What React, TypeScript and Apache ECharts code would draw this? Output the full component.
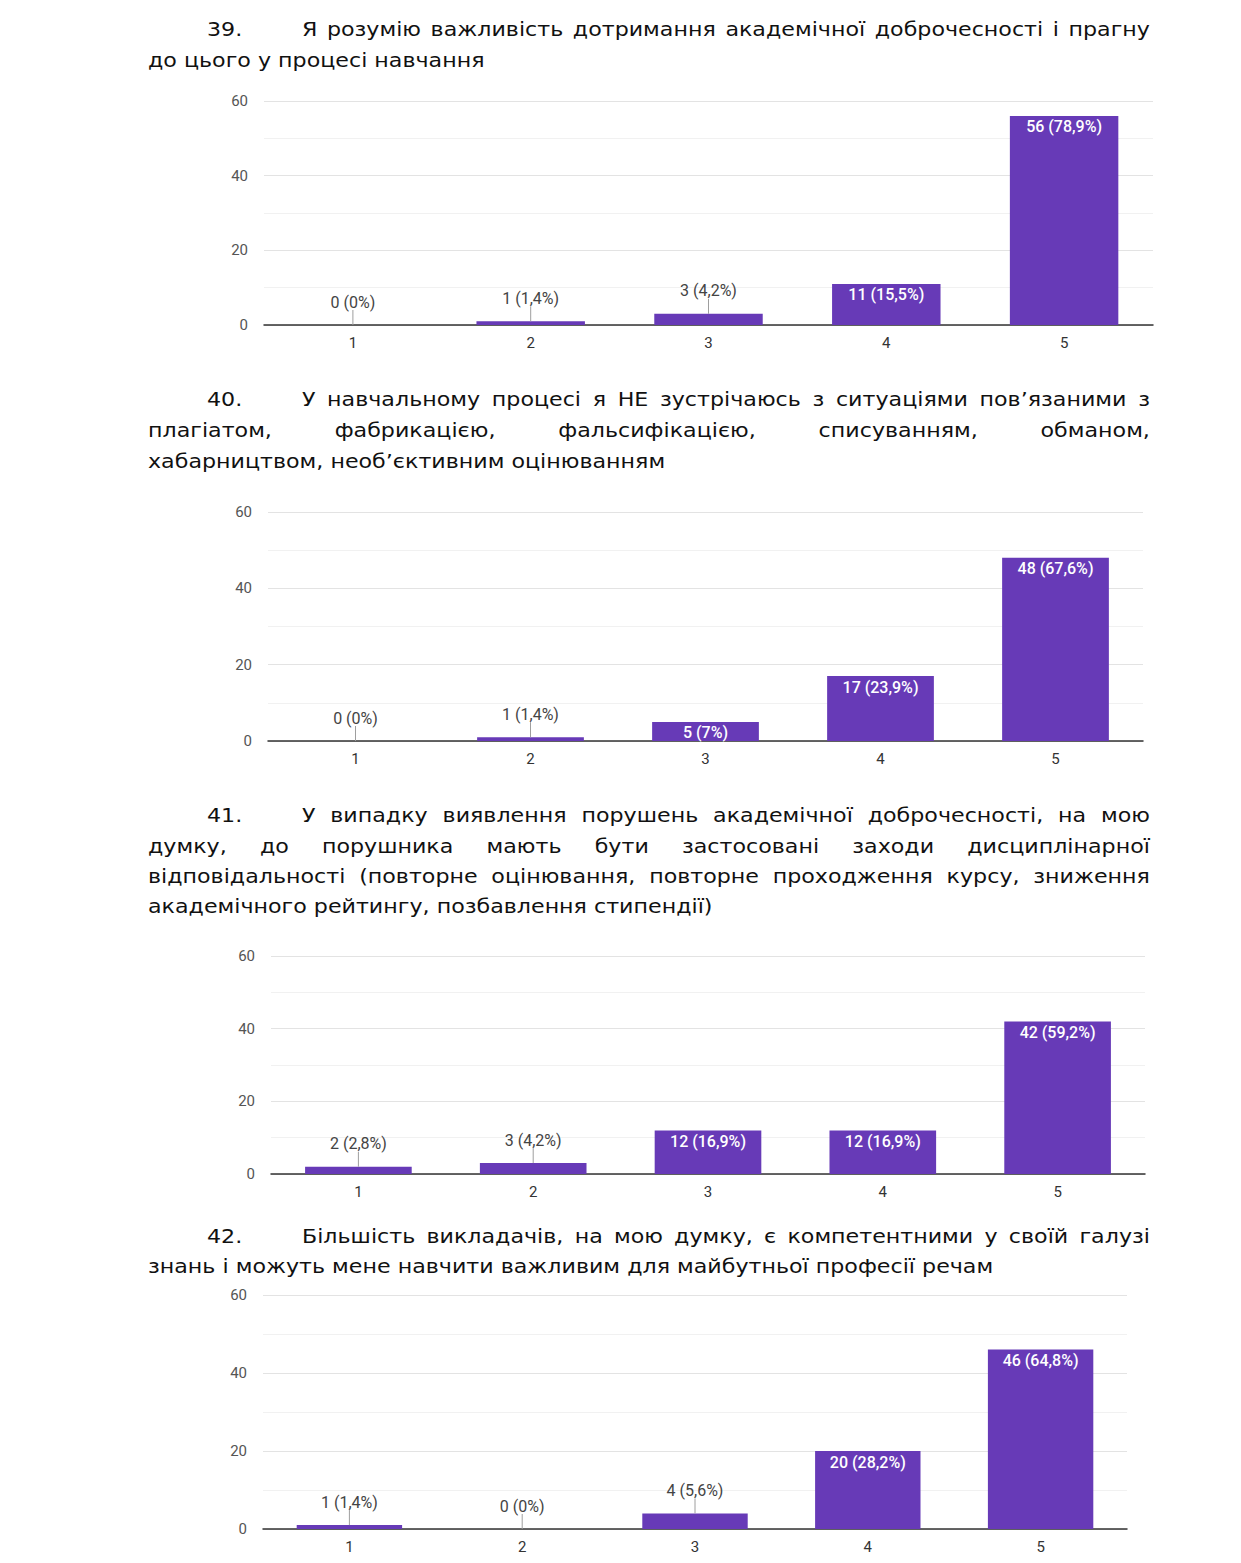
import React, { useEffect, useRef } from 'react';
import * as echarts from 'echarts';

// ---------- DATA ----------
const categories = ['1', '2', '3', '4', '5'];
const yMin = 0;
const yMax = 60;
const yStep = 20;

const q39Number = '39.';
const q39Lines = [
  'Я розумію важливість дотримання академічної доброчесності і прагну',
  'до цього у процесі навчання',
];
const q39Counts = [0, 1, 3, 11, 56];
const q39Pct = ['0%', '1,4%', '4,2%', '15,5%', '78,9%'];

const q40Number = '40.';
const q40Lines = [
  'У навчальному процесі я НЕ зустрічаюсь з ситуаціями пов’язаними з',
  'плагіатом, фабрикацією, фальсифікацією, списуванням, обманом,',
  'хабарництвом, необ’єктивним оцінюванням',
];
const q40Counts = [0, 1, 5, 17, 48];
const q40Pct = ['0%', '1,4%', '7%', '23,9%', '67,6%'];

const q41Number = '41.';
const q41Lines = [
  'У випадку виявлення порушень академічної доброчесності, на мою',
  'думку, до порушника мають бути застосовані заходи дисциплінарної',
  'відповідальності (повторне оцінювання, повторне проходження курсу, зниження',
  'академічного рейтингу, позбавлення стипендії)',
];
const q41Counts = [2, 3, 12, 12, 42];
const q41Pct = ['2,8%', '4,2%', '16,9%', '16,9%', '59,2%'];

const q42Number = '42.';
const q42Lines = [
  'Більшість викладачів, на мою думку, є компетентними у своїй галузі',
  'знань і можуть мене навчити важливим для майбутньої професії речам',
];
const q42Counts = [1, 0, 4, 20, 46];
const q42Pct = ['1,4%', '0%', '5,6%', '28,2%', '64,8%'];

// ---------- LAYOUT ----------
const PANELS = [
  { num: q39Number, lines: q39Lines, counts: q39Counts, pct: q39Pct, lineY: [29, 60], lastEnd: 483,
    grid: { left: 264, top: 101, width: 889, height: 224 } },
  { num: q40Number, lines: q40Lines, counts: q40Counts, pct: q40Pct, lineY: [399, 430, 461], lastEnd: 675,
    grid: { left: 268, top: 512, width: 875, height: 229 } },
  { num: q41Number, lines: q41Lines, counts: q41Counts, pct: q41Pct, lineY: [815, 846, 876, 906], lastEnd: 702,
    grid: { left: 271, top: 956, width: 874, height: 218 } },
  { num: q42Number, lines: q42Lines, counts: q42Counts, pct: q42Pct, lineY: [1236, 1266], lastEnd: 997,
    grid: { left: 263, top: 1295, width: 864, height: 234 } },
];

const TEXT_LEFT = 148;
const TEXT_RIGHT = 1150;
const NUM_X = 207;
const FIRST_X = 302;
const HFS = 20;
const HFONT = '"DejaVu Sans", sans-serif';
const INSIDE_MIN = 5;
const BAR_COLOR = '#673ab7';

function buildHeadings(): any[] {
  const canvas = document.createElement('canvas');
  const ctx = canvas.getContext('2d')!;
  ctx.font = `${HFS}px ${HFONT}`;
  const mw = (s: string) => ctx.measureText(s).width;
  let tgt = 0;
  let nat = 0;
  PANELS.forEach((p) => {
    tgt += p.lastEnd - TEXT_LEFT;
    nat += mw(p.lines[p.lines.length - 1]);
  });
  const sx = tgt / nat;
  const font = `${HFS}px ${HFONT}`;
  const els: any[] = [];
  PANELS.forEach((p) => {
    els.push({
      type: 'text', x: NUM_X, y: p.lineY[0], scaleX: sx, silent: true,
      style: { text: p.num, font, fill: '#111', verticalAlign: 'middle', align: 'left' },
    });
    p.lines.forEach((line, li) => {
      const y = p.lineY[li];
      const left = li === 0 ? FIRST_X : TEXT_LEFT;
      const isLast = li === p.lines.length - 1;
      if (isLast) {
        els.push({
          type: 'text', x: left, y, scaleX: sx, silent: true,
          style: { text: line, font, fill: '#111', verticalAlign: 'middle', align: 'left' },
        });
        return;
      }
      const words = line.split(' ');
      const ws = words.map(mw);
      const sumNat = ws.reduce((a, b) => a + b, 0);
      const W = TEXT_RIGHT - left;
      const minGap = HFS * 0.3;
      let s = sx;
      if (sumNat * s + (words.length - 1) * minGap > W) {
        s = (W - (words.length - 1) * minGap) / sumNat;
      }
      const gap = words.length > 1 ? (W - sumNat * s) / (words.length - 1) : 0;
      let x = left;
      words.forEach((wd, k) => {
        els.push({
          type: 'text', x, y, scaleX: s, silent: true,
          style: { text: wd, font, fill: '#111', verticalAlign: 'middle', align: 'left' },
        });
        x += ws[k] * s + gap;
      });
    });
  });
  return els;
}

export default function App() {
  const ref = useRef<HTMLDivElement>(null);
  useEffect(() => {
    if (!ref.current) return;
    const chart = echarts.init(ref.current, undefined, { renderer: 'svg' });
    const grid = PANELS.map((p) => ({ ...p.grid, containLabel: false }));
    const xAxis = PANELS.map((_, i) => ({
      type: 'category', gridIndex: i, data: categories,
      axisTick: { show: false },
      axisLine: { lineStyle: { color: '#333', width: 1.5 } },
      axisLabel: { color: '#333', fontSize: 15, fontFamily: 'Roboto', margin: 10 },
    }));
    const yAxis = PANELS.map((_, i) => ({
      type: 'value', gridIndex: i, min: yMin, max: yMax, interval: yStep,
      axisLine: { show: false }, axisTick: { show: false },
      axisLabel: { color: '#555', fontSize: 15, fontFamily: 'Roboto', margin: 16 },
      splitLine: { lineStyle: { color: '#e3e3e3', width: 1 } },
      minorTick: { show: false, splitNumber: 2 },
      minorSplitLine: { show: true, lineStyle: { color: '#f1f1f1', width: 1 } },
    }));
    const series: any[] = [];
    PANELS.forEach((p, i) => {
      series.push({
        type: 'bar', xAxisIndex: i, yAxisIndex: i, barWidth: '61%',
        itemStyle: { color: BAR_COLOR },
        data: p.counts.map((v) => ({ value: v, label: { show: v >= INSIDE_MIN } })),
        label: {
          position: 'insideTop', distance: 3, color: '#fff', fontSize: 16, fontWeight: 500,
          fontFamily: 'Roboto',
          formatter: (prm: any) => `${prm.value} (${p.pct[prm.dataIndex]})`,
        },
      });
      series.push({
        type: 'custom', xAxisIndex: i, yAxisIndex: i, z: 5,
        data: p.counts.map((v, k) => [k, v]).filter((d) => d[1] < INSIDE_MIN),
        renderItem: (_params: any, api: any) => {
          const k = api.value(0);
          const v = api.value(1);
          const pt = api.coord([k, v]);
          return {
            type: 'group',
            children: [
              { type: 'line', shape: { x1: pt[0], y1: pt[1], x2: pt[0], y2: pt[1] - 15 },
                style: { stroke: '#9e9e9e', lineWidth: 1 } },
              { type: 'text', x: pt[0], y: pt[1] - 23,
                style: { text: `${p.counts[k]} (${p.pct[k]})`, align: 'center', verticalAlign: 'middle',
                  font: '16px Roboto', fill: '#444' } },
            ],
          };
        },
      });
    });
    chart.setOption({
      animation: false,
      backgroundColor: '#fff',
      grid, xAxis, yAxis, series,
      graphic: buildHeadings(),
    });
    return () => chart.dispose();
  }, []);
  return (
    <div ref={ref} style={{ position: 'absolute', left: 0, top: 0, width: 1241, height: 1563, background: '#fff' }} />
  );
}
